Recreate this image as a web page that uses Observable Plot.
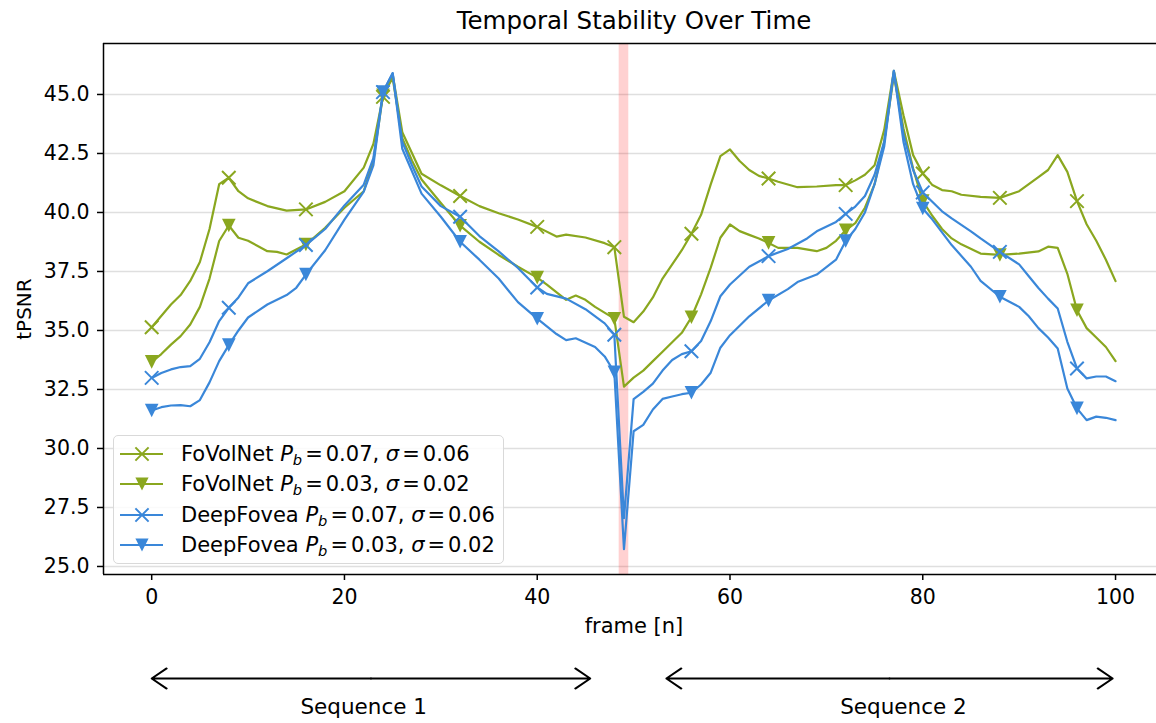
<!DOCTYPE html>
<html>
<head>
<meta charset="utf-8">
<script src="https://cdn.jsdelivr.net/npm/d3@7"></script>
<script src="https://cdn.jsdelivr.net/npm/@observablehq/plot@0.6"></script>
<style>
  body { margin: 0; background: #fff; font-family: "DejaVu Sans", sans-serif; }
  #wrap { position: relative; width: 1156px; height: 723px; overflow: hidden; background: #fff; }
  #wrap svg { display: block; }
  #legend { position: absolute; left: 113px; top: 435px; width: 391px; height: 129px; box-sizing: border-box;
            border: 1.5px solid #d9d9d9; border-radius: 5px; background: rgba(255,255,255,0.85); }
  .row { position: absolute; left: 0; height: 30px; display: flex; align-items: center; white-space: nowrap;
         font-size: 21px; color: #000; }
  .row svg { margin-left: 5px; margin-right: 17px; }
  .row sub { font-size: 0.7em; vertical-align: -0.25em; line-height: 0; }
  .row .eq { margin: 0 3px; }
</style>
</head>
<body>
<div id="wrap"><div id="legend"></div></div>
<script>
// ---- data ----
const frameTicks = [0, 20, 40, 60, 80, 100];
const psnrTicks = [25, 27.5, 30, 32.5, 35, 37.5, 40, 42.5, 45];
const markerFrames = [0, 8, 16, 24, 32, 40, 48, 56, 64, 72, 80, 88, 96];
const shotBoundary = [{start: 48.5, end: 49.5}];

// FoVolNet  P_b = 0.07, sigma = 0.06   [frame, tPSNR]
const fovolnetA = [[0,35.14],[2,36.1],[3,36.5],[4,37.1],[5,37.9],[6,39.3],[7,41.2],[8,41.47],[9,40.9],[10,40.6],[12,40.27],[14,40.08],[16,40.13],[18,40.45],[20,40.9],[22,41.9],[23,42.9],[24,44.9],[25,45.85],[26,43.4],[28,41.64],[30,41.15],[32,40.7],[34,40.27],[36,39.97],[38,39.7],[40,39.39],[42,38.98],[43,39.06],[45,38.94],[47,38.7],[48,38.53],[49,35.58],[50,35.35],[51,35.8],[52,36.4],[53,37.2],[55,38.4],[56,39.1],[57,39.9],[58,41.19],[59,42.39],[60,42.67],[61,42.18],[62,41.8],[63,41.55],[64,41.44],[65,41.3],[67,41.07],[69,41.1],[71,41.16],[72,41.16],[73,41.36],[74,41.6],[75,42.0],[76,43.5],[77,46.0],[78,44.12],[79,42.43],[80,41.65],[81,41.16],[82,40.95],[83,40.9],[84,40.75],[86,40.66],[88,40.62],[90,40.9],[91,41.2],[92,41.5],[93,41.8],[94,42.43],[95,41.72],[96,40.48],[97,39.5],[98,38.8],[99,38.0],[100,37.09]];
// FoVolNet  P_b = 0.03, sigma = 0.02
const fovolnetB = [[0,33.67],[1,34.0],[2,34.4],[3,34.76],[4,35.25],[5,36.0],[6,37.2],[7,38.79],[8,39.45],[9,38.93],[10,38.8],[12,38.36],[13,38.33],[14,38.22],[15,38.43],[16,38.64],[18,39.35],[20,40.2],[22,40.9],[23,42.2],[24,44.97],[25,45.7],[26,43.15],[27,42.2],[28,41.4],[30,40.4],[32,39.44],[34,38.76],[36,38.2],[38,37.7],[40,37.24],[41,36.94],[43,36.3],[44,36.48],[45,36.3],[46,36.0],[48,35.5],[49,32.62],[50,33.0],[51,33.3],[52,33.7],[53,34.1],[54,34.5],[55,34.9],[56,35.56],[57,36.53],[58,37.66],[59,38.93],[60,39.49],[61,39.21],[62,39.05],[63,38.9],[64,38.71],[65,38.5],[67,38.5],[69,38.36],[70,38.5],[71,38.8],[72,39.25],[73,39.55],[74,40.2],[75,41.2],[76,43.0],[77,45.8],[78,43.56],[79,41.86],[80,40.48],[81,39.85],[82,39.3],[83,38.9],[84,38.65],[86,38.26],[88,38.2],[90,38.26],[92,38.35],[93,38.55],[94,38.5],[95,37.4],[96,35.86],[97,35.1],[98,34.7],[99,34.3],[100,33.7]];
// DeepFovea P_b = 0.07, sigma = 0.06
const deepfoveaA = [[0,32.99],[1,33.2],[2,33.35],[3,33.45],[4,33.49],[5,33.8],[6,34.5],[7,35.4],[8,35.96],[9,36.4],[10,37.0],[12,37.51],[14,38.06],[16,38.62],[18,39.3],[20,40.3],[22,41.18],[23,42.3],[24,45.1],[25,45.9],[26,43.0],[27,42.0],[28,41.1],[30,40.27],[32,39.82],[34,39.0],[36,38.35],[38,37.65],[40,36.82],[41,36.55],[43,36.35],[45,35.9],[47,35.3],[48,34.82],[49,27.05],[50,32.09],[51,32.4],[52,32.75],[53,33.3],[54,33.75],[55,34.0],[56,34.12],[57,34.55],[58,35.4],[59,36.45],[60,36.95],[62,37.7],[64,38.15],[66,38.45],[68,38.9],[69,39.2],[71,39.6],[72,39.94],[73,40.25],[74,40.7],[75,41.6],[76,43.0],[77,46.0],[78,43.28],[79,41.8],[80,40.85],[82,40.05],[83,39.75],[85,39.2],[86,38.9],[88,38.33],[90,37.8],[91,37.3],[92,36.8],[93,36.35],[94,35.93],[95,34.52],[96,33.39],[97,32.97],[98,33.05],[99,33.05],[100,32.85]];
// DeepFovea P_b = 0.03, sigma = 0.02
const deepfoveaB = [[0,31.61],[1,31.75],[2,31.82],[3,31.84],[4,31.79],[5,32.05],[6,32.8],[7,33.7],[8,34.38],[9,35.0],[10,35.55],[12,36.1],[14,36.5],[15,36.81],[16,37.37],[18,38.4],[20,39.7],[22,40.88],[23,42.0],[24,45.1],[25,45.9],[26,42.7],[28,40.8],[30,39.82],[32,38.76],[34,38.0],[36,37.2],[38,36.2],[40,35.5],[42,34.85],[43,34.59],[44,34.67],[46,34.3],[47,33.9],[48,33.23],[49,25.73],[50,30.73],[51,31.0],[52,31.65],[53,32.1],[54,32.2],[55,32.3],[56,32.36],[57,32.71],[58,33.21],[59,34.27],[60,34.8],[62,35.6],[64,36.27],[66,36.75],[67,37.05],[69,37.37],[71,38.0],[72,38.79],[73,39.3],[74,40.0],[75,41.2],[76,42.8],[77,46.0],[78,42.99],[79,41.2],[80,40.17],[81,39.7],[83,38.62],[85,37.7],[86,37.1],[88,36.43],[90,36.0],[91,35.6],[92,35.1],[93,34.7],[94,34.24],[95,32.54],[96,31.7],[97,31.2],[98,31.35],[99,31.3],[100,31.2]];

const models = ["FoVolNet", "FoVolNet", "DeepFovea", "DeepFovea"];
const pbValues = ["0.07", "0.03", "0.07", "0.03"];
const sigmaValues = ["0.06", "0.02", "0.06", "0.02"];
const seriesValues = [fovolnetA, fovolnetB, deepfoveaA, deepfoveaB];

const sequences = [
  {label: "Sequence 1", start: 0, end: 45.5, labelAt: 22},
  {label: "Sequence 2", start: 53.4, end: 99.7, labelAt: 78}
];

// ---- styles ----
const GREEN = "#8aa71f";
const BLUE = "#3a87d9";
const colors = [GREEN, GREEN, BLUE, BLUE];
const markerKinds = ["x", "v", "x", "v"];
const triangleDown = {
  draw(context, size) {
    const a = Math.sqrt(size / Math.PI) * 1.0;
    context.moveTo(-a, -a);
    context.lineTo(a, -a);
    context.lineTo(0, a);
    context.closePath();
  }
};

const series = seriesValues.map((vals, i) => ({
  rows: vals.map(([frame, tpsnr]) => ({frame, tpsnr})),
  color: colors[i], kind: markerKinds[i]
}));

const xDomain = [-5, 104.25];
const yDomain = [24.66, 47.16];
const FONT = '"DejaVu Sans", sans-serif';

const seriesMarks = series.flatMap(s => {
  const pts = s.rows.filter(d => markerFrames.includes(d.frame));
  const line = Plot.line(s.rows, {x: "frame", y: "tpsnr", stroke: s.color, strokeWidth: 2.2});
  const dots = s.kind === "x"
    ? Plot.dot(pts, {x: "frame", y: "tpsnr", symbol: "times", r: 6.2, stroke: s.color, strokeWidth: 2})
    : Plot.dot(pts, {x: "frame", y: "tpsnr", symbol: triangleDown, r: 6.8, fill: s.color, stroke: "none"});
  return [line, dots];
});

const chart = Plot.plot({
  width: 1156, height: 650,
  marginLeft: 103, marginRight: 0, marginTop: 43, marginBottom: 76,
  style: {fontFamily: FONT, fontSize: "20px", color: "#000", background: "#fff", overflow: "visible"},
  x: {domain: xDomain},
  y: {domain: yDomain},
  marks: [
    Plot.gridY(psnrTicks, {stroke: "#b0b0b0", strokeOpacity: 0.4, strokeWidth: 1.5}),
    Plot.rect(shotBoundary, {x1: "start", x2: "end", fill: "#ff0000", fillOpacity: 0.18}),
    ...seriesMarks,
    Plot.ruleX([xDomain[0]], {stroke: "#000", strokeWidth: 1.5}),
    Plot.ruleY(yDomain, {stroke: "#000", strokeWidth: 1.5}),
    Plot.axisX(frameTicks, {tickSize: 6, tickPadding: 9, label: null, fontSize: 20.5, strokeWidth: 1.5}),
    Plot.axisY(psnrTicks, {tickSize: 6, tickPadding: 8, label: null, tickFormat: d => d.toFixed(1), fontSize: 20.5, strokeWidth: 1.5}),
    Plot.text(["Temporal Stability Over Time"], {frameAnchor: "top", lineAnchor: "middle", dy: -22, dx: 4, fontSize: 24.5}),
    Plot.text(["frame [n]"], {frameAnchor: "bottom", lineAnchor: "middle", dy: 52, dx: 4, fontSize: 21}),
    Plot.text(["tPSNR"], {frameAnchor: "left", lineAnchor: "middle", textAnchor: "middle", dx: -79, rotate: -90, fontSize: 20})
  ]
});

const arrowSegs = sequences.flatMap(s => {
  const mid = (s.start + s.end) / 2;
  return [{from: mid, to: s.start}, {from: mid, to: s.end}];
});

const annot = Plot.plot({
  width: 1156, height: 73,
  marginLeft: 103, marginRight: 0, marginTop: 0, marginBottom: 0,
  style: {fontFamily: FONT, fontSize: "22px", color: "#000", background: "#fff"},
  x: {domain: xDomain, axis: null},
  y: {type: "point", domain: ["arrow", "label"], range: [28, 57], padding: 0, axis: null},
  marks: [
    Plot.arrow(arrowSegs, {x1: "from", x2: "to", y1: () => "arrow", y2: () => "arrow",
      stroke: "#000", strokeWidth: 2, headLength: 13.5, headAngle: 68}),
    Plot.text(sequences, {x: "labelAt", y: () => "label", text: "label", fontSize: 21.5, fill: "#000"})
  ]
});

const wrap = document.getElementById("wrap");
wrap.insertBefore(chart, wrap.firstChild);
wrap.insertBefore(annot, document.getElementById("legend"));

// legend
const legend = document.getElementById("legend");
series.forEach((s, i) => {
  const row = document.createElement("div");
  row.className = "row";
  row.style.top = (17.7 + 30.4 * i - 15) + "px";
  const ns = "http://www.w3.org/2000/svg";
  const svg = document.createElementNS(ns, "svg");
  svg.setAttribute("width", 45); svg.setAttribute("height", 20);
  const ln = document.createElementNS(ns, "line");
  ln.setAttribute("x1", 1); ln.setAttribute("x2", 44); ln.setAttribute("y1", 10); ln.setAttribute("y2", 10);
  ln.setAttribute("stroke", s.color); ln.setAttribute("stroke-width", 2.2);
  svg.appendChild(ln);
  const mk = document.createElementNS(ns, "path");
  if (s.kind === "x") {
    mk.setAttribute("d", "M16.4,3.4L29.6,16.6M16.4,16.6L29.6,3.4");
    mk.setAttribute("stroke", s.color); mk.setAttribute("stroke-width", 2); mk.setAttribute("fill", "none");
  } else {
    mk.setAttribute("d", "M16.4,3.4L29.6,3.4L23,16.6Z");
    mk.setAttribute("fill", s.color);
  }
  svg.appendChild(mk);
  row.appendChild(svg);
  const txt = document.createElement("span");
  txt.innerHTML = `${models[i]} <i>P</i><sub><i>b</i></sub><span class="eq">=</span>${pbValues[i]}, <i>σ</i><span class="eq">=</span>${sigmaValues[i]}`;
  row.appendChild(txt);
  legend.appendChild(row);
});
</script>
</body>
</html>
